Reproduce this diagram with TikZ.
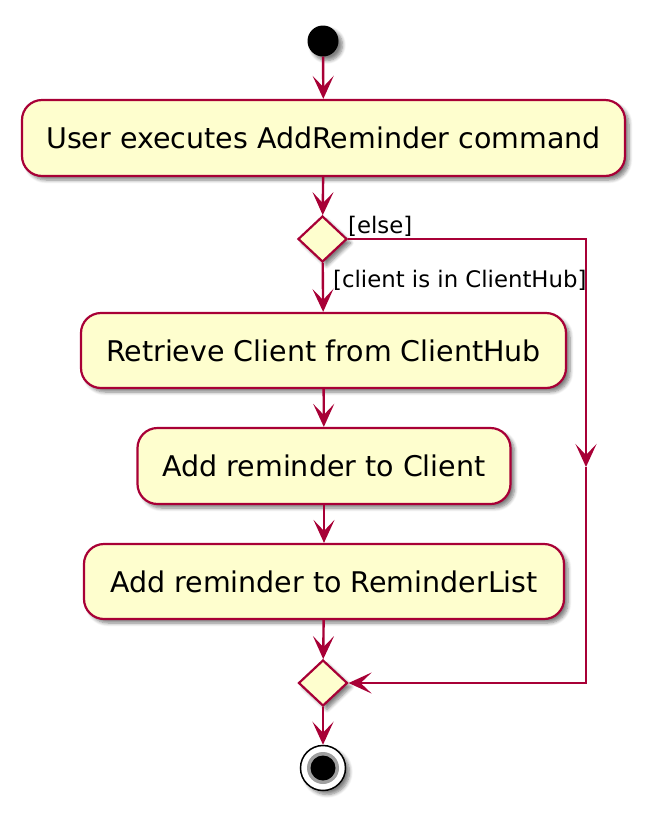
\documentclass[tikz,border=0pt]{standalone}
\usepackage{fontspec}
\setmainfont{DejaVu Sans}
\usetikzlibrary{shapes.geometric,arrows.meta,shadows.blur}
\definecolor{pborder}{HTML}{A80036}
\definecolor{pfill}{HTML}{FEFECE}
\tikzset{
  shad/.style={blur shadow={shadow xshift=4pt, shadow yshift=-4pt, shadow blur steps=6, shadow blur radius=3.5pt, shadow opacity=50}},
  actbox/.style={rectangle, rounded corners=20pt, fill=pfill, draw=pborder, line width=2.2pt, inner sep=0pt, align=center, font=\fontsize{28.5}{34}\selectfont, shad},
  decbox/.style={diamond, fill=pfill, draw=pborder, line width=2.2pt, inner sep=0pt, minimum width=49pt, minimum height=46pt, shad},
  flow/.style={draw=pborder, line width=2.4pt, -{Stealth[length=23pt,width=21pt,inset=11pt]}},
  guard/.style={inner sep=0pt, font=\fontsize{22.8}{27}\selectfont, anchor=west}
}
\begin{document}
\begin{tikzpicture}[x=1pt, y={(0pt,-1pt)}]
\useasboundingbox (0,0) rectangle (657,823);
\node[circle, fill=black, minimum size=31pt, inner sep=0pt, shad] (start) at (323,41) {};
\node[actbox, minimum width=603pt, minimum height=76pt] (a1) at (323.5,138) {User executes AddReminder command};
\node[decbox] (d1) at (322.5,239) {};
\node[actbox, minimum width=485pt, minimum height=75pt] (a2) at (323.5,350.5) {Retrieve Client from ClientHub};
\node[actbox, minimum width=373pt, minimum height=76pt] (a3) at (324,466) {Add reminder to Client};
\node[actbox, minimum width=480pt, minimum height=75pt] (a4) at (324,581.5) {Add reminder to ReminderList};
\node[decbox] (d2) at (323,683) {};
\node[circle, draw=black, fill=white, line width=1.5pt, minimum size=45pt, inner sep=0pt, shad] (end) at (323,768) {};
\node[circle, fill=gray!75, minimum size=32pt, inner sep=0pt] (endring) at (end.center) {};
\node[circle, fill=black, minimum size=25pt, inner sep=0pt] (enddot) at (end.center) {};
\coordinate (r1) at (586,239);
\coordinate (rm) at (586,467);
\coordinate (r2) at (586,683);
\node[guard] (lelse) at (348,226) {[else]};
\node[guard] (lyes) at (333,280) {[client is in ClientHub]};
\draw[flow] (start) -- (a1);
\draw[flow] (a1) -- (d1);
\draw[flow] (d1) -- (a2);
\draw[flow] (a2) -- (a3);
\draw[flow] (a3) -- (a4);
\draw[flow] (a4) -- (d2);
\draw[flow] (d2) -- (end);
\draw[flow] (d1.east) -- (r1) -- (rm);
\draw[flow] (rm) -- (r2) -- (d2.east);
\end{tikzpicture}
\end{document}
